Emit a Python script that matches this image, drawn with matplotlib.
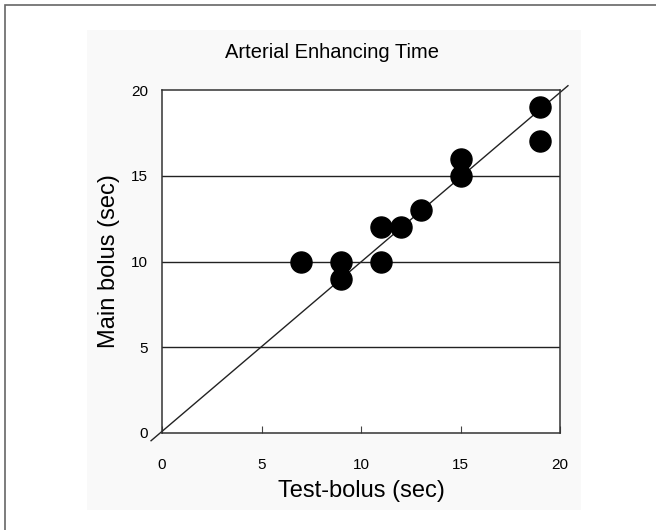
import matplotlib.pyplot as plt
from matplotlib.patches import Rectangle

plt.rcParams['font.family'] = ['Liberation Sans', 'DejaVu Sans']

# Arterial enhancing time (sec)
test_bolus = [7, 9, 9, 11, 11, 12, 13, 15, 15, 19, 19]
main_bolus = [10, 10, 9, 12, 10, 12, 13, 16, 15, 19, 17]

ticks = [0, 5, 10, 15, 20]
grid_levels = [5, 10, 15]

fig = plt.figure(figsize=(6.56, 5.3), dpi=100)

# outer frame and the slightly grey scanned panel
fig.patches.append(Rectangle((5 / 656, -0.1), 1.2, 1.1 - 5 / 530, transform=fig.transFigure,
                             fill=False, edgecolor='#666666', linewidth=1.2, zorder=-5))
fig.patches.append(Rectangle((87 / 656, 1 - 510 / 530), (581 - 87) / 656, (510 - 30) / 530,
                             transform=fig.transFigure, facecolor='#f9f9f9',
                             edgecolor='none', zorder=-5))

ax = fig.add_axes([162 / 656, 1 - 433 / 530, 398 / 656, 343 / 530])
ax.set_facecolor('white')

for lv in grid_levels:
    ax.axhline(lv, color='#222222', linewidth=1.0, zorder=1)

ax.plot([-0.55, 20.4], [-0.45, 20.25], color='#222222', linewidth=1.0, clip_on=False, zorder=2)

ax.scatter(test_bolus, main_bolus, s=230, color='black', zorder=3)

ax.set_xlim(0, 20)
ax.set_ylim(0, 20)
ax.set_xticks(ticks)
ax.set_yticks(ticks)
ax.tick_params(axis='x', direction='in', length=5, pad=18, labelsize=11, color='#444444')
ax.tick_params(axis='y', length=0, pad=10, labelsize=11)
for sp in ax.spines.values():
    sp.set_color('#333333')
    sp.set_linewidth(1.1)

ax.set_xlabel('Test-bolus (sec)', fontsize=17, labelpad=6)
ax.set_ylabel('Main bolus (sec)', fontsize=17, labelpad=8)
fig.text(332 / 656, 1 - 53 / 530, 'Arterial Enhancing Time', ha='center', va='center', fontsize=14.5)

fig.savefig('out.png', dpi=100)
